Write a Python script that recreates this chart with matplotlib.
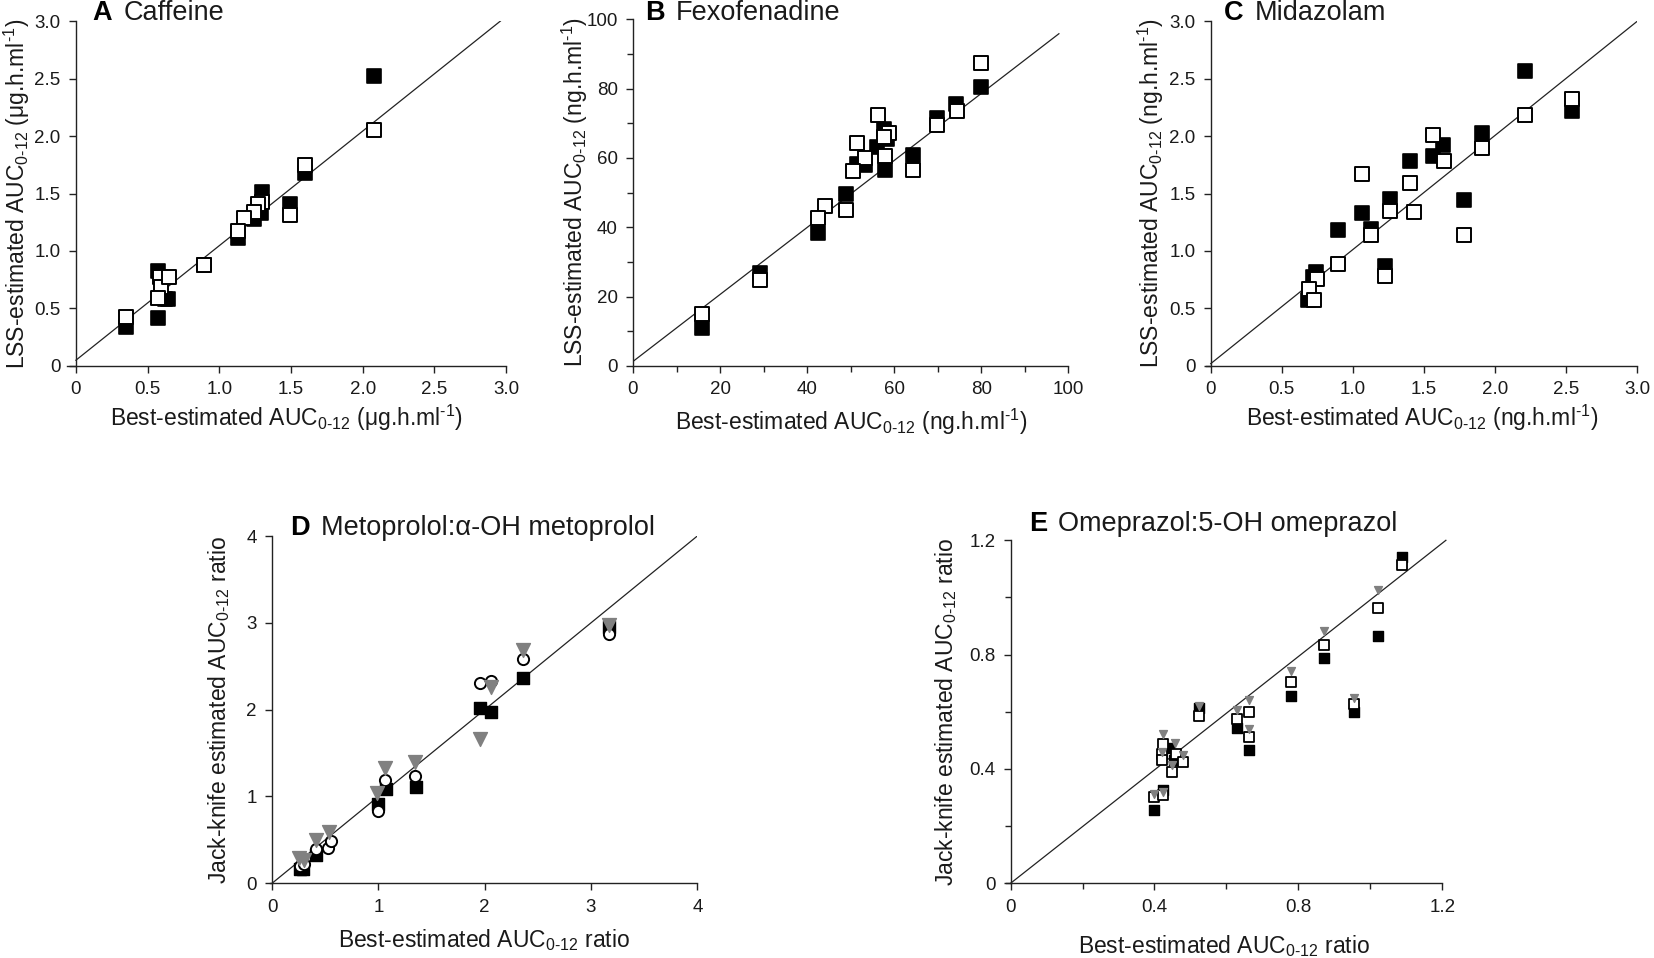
import matplotlib
matplotlib.use("Agg")
import matplotlib.pyplot as plt
from matplotlib.ticker import MultipleLocator, FuncFormatter
from matplotlib.mathtext import MathTextParser

plt.rcParams['font.family'] = ['Liberation Sans', 'DejaVu Sans']
plt.rcParams['mathtext.fontset'] = 'custom'
plt.rcParams['mathtext.rm'] = 'Liberation Sans'
plt.rcParams['mathtext.it'] = 'Liberation Sans:italic'
plt.rcParams['mathtext.bf'] = 'Liberation Sans:bold'

# ---------------- data ----------------
# Panel A: Caffeine
caf_filled_x = [2.08, 1.60, 1.49, 1.30, 1.29, 1.24, 1.13, 0.89, 0.57, 0.64, 0.62, 0.57, 0.35]
caf_filled_y = [2.52, 1.68, 1.41, 1.51, 1.33, 1.28, 1.11, 0.88, 0.83, 0.585, 0.585, 0.42, 0.34]
caf_open_x = [2.08, 1.60, 1.49, 1.30, 1.27, 1.24, 1.17, 1.13, 0.89, 0.585, 0.59, 0.65, 0.57, 0.35]
caf_open_y = [2.05, 1.75, 1.31, 1.43, 1.41, 1.34, 1.285, 1.175, 0.88, 0.77, 0.69, 0.77, 0.59, 0.43]
caf_line_x = [0, 2.96]
caf_line_y = [0.05, 3.0]

# Panel B: Fexofenadine
fex_filled_x = [80.0, 74.2, 69.7, 64.3, 57.6, 58.4, 56.1, 57.9, 53.3, 51.5, 48.9, 42.5, 29.2, 15.8]
fex_filled_y = [80.5, 75.4, 71.6, 60.9, 68.4, 65.5, 63.0, 56.4, 57.9, 58.2, 49.7, 38.4, 26.9, 11.0]
fex_open_x = [80.0, 74.5, 69.7, 64.3, 56.2, 58.7, 57.6, 57.9, 51.5, 53.3, 50.5, 48.9, 44.1, 42.5, 29.2, 15.8]
fex_open_y = [87.4, 73.4, 69.4, 56.4, 72.3, 67.1, 66.1, 60.6, 64.2, 60.1, 56.2, 45.0, 46.2, 42.8, 24.8, 14.9]
fex_line_x = [0, 97.8]
fex_line_y = [1.3, 95.8]

# Panel C: Midazolam
mid_filled_x = [2.21, 2.54, 1.91, 1.63, 1.565, 1.78, 1.40, 1.065, 1.26, 1.13, 0.895, 1.227, 0.743, 0.72, 0.682]
mid_filled_y = [2.57, 2.22, 2.03, 1.92, 1.83, 1.44, 1.78, 1.33, 1.455, 1.19, 1.18, 0.87, 0.82, 0.77, 0.575]
mid_open_x = [2.21, 2.54, 1.91, 1.565, 1.64, 1.78, 1.40, 1.065, 1.26, 1.43, 1.13, 0.895, 1.227, 0.75, 0.694, 0.726]
mid_open_y = [2.18, 2.32, 1.90, 2.01, 1.78, 1.14, 1.59, 1.67, 1.35, 1.34, 1.14, 0.89, 0.78, 0.76, 0.67, 0.57]
mid_line_x = [0, 3.0]
mid_line_y = [0.02, 3.0]

# Panel D: Metoprolol:alpha-OH metoprolol
met_tri_x = [0.25, 0.30, 0.41, 0.54, 0.99, 1.06, 1.34, 1.96, 2.06, 2.36, 3.17]
met_tri_y = [0.29, 0.27, 0.50, 0.59, 1.04, 1.33, 1.40, 1.66, 2.26, 2.69, 2.98]
met_circ_x = [0.26, 0.30, 0.41, 0.53, 0.55, 1.00, 1.06, 1.34, 1.96, 2.06, 2.36, 3.17]
met_circ_y = [0.20, 0.22, 0.39, 0.41, 0.49, 0.83, 1.19, 1.23, 2.31, 2.33, 2.58, 2.87]
met_sq_x = [0.26, 0.29, 0.41, 1.00, 1.07, 1.35, 1.96, 2.06, 2.36, 3.17]
met_sq_y = [0.16, 0.17, 0.32, 0.91, 1.09, 1.11, 2.02, 1.97, 2.36, 2.95]
met_line_x = [0, 4.0]
met_line_y = [0, 4.0]

# Panel E: Omeprazol:5-OH omeprazol
ome_filled_x = [0.40, 0.425, 0.44, 0.455, 0.525, 0.63, 0.663, 0.78, 0.87, 0.955, 1.02, 1.088]
ome_filled_y = [0.255, 0.328, 0.472, 0.433, 0.613, 0.542, 0.466, 0.654, 0.789, 0.601, 0.865, 1.141]
ome_open_x = [0.40, 0.425, 0.42, 0.42, 0.425, 0.45, 0.46, 0.48, 0.525, 0.63, 0.663, 0.663, 0.78, 0.87, 0.955, 1.02, 1.088]
ome_open_y = [0.302, 0.308, 0.454, 0.433, 0.487, 0.39, 0.454, 0.425, 0.584, 0.574, 0.598, 0.513, 0.703, 0.832, 0.627, 0.963, 1.112]
ome_tri_x = [0.40, 0.425, 0.425, 0.458, 0.48, 0.45, 0.42, 0.525, 0.63, 0.663, 0.663, 0.78, 0.87, 0.955, 1.022]
ome_tri_y = [0.312, 0.318, 0.521, 0.49, 0.449, 0.413, 0.46, 0.62, 0.607, 0.64, 0.539, 0.742, 0.883, 0.648, 1.026]
ome_line_x = [0, 1.21]
ome_line_y = [0, 1.2]

# ---------------- text helpers ----------------
def _mt_ok(s):
    try:
        MathTextParser('agg').parse(s, dpi=100)
        return True
    except Exception:
        return False

if _mt_ok(r'$_{\mathregular{0}\text{-}\mathregular{12}}$'):
    auc = r'AUC$_{\mathregular{0}\text{-}\mathregular{12}}$'
    sup = r'$^{\text{-}\mathregular{1}}$'
else:
    auc = r'AUC$_{\mathregular{0-12}}$'
    sup = r'$^{\mathregular{-1}}$'

unit_ug = r'($\mathregular{\mu}$g.h.ml' + sup + ')'
unit_ng = '(ng.h.ml' + sup + ')'

# ---------------- figure ----------------
fig = plt.figure(figsize=(16.54, 9.58), dpi=100)
TXT = '#1a1a1a'
GREY = '#808080'
TICK_FS = 13.5
LAB_FS = 16.5
TITLE_FS = 19.5


def make_axes(x0, x1, y0, y1, xmax, ymax, ext):
    w = x1 - x0
    ax = fig.add_axes([x0 - ext * w, y0, w * (1 + ext), y1 - y0])
    ax.set_xlim(-ext * xmax, xmax)
    ax.set_ylim(0, ymax)
    ax.spines['left'].set_position(('data', 0))
    ax.spines['top'].set_visible(False)
    ax.spines['right'].set_visible(False)
    for s in ('left', 'bottom'):
        ax.spines[s].set_linewidth(1.0)
        ax.spines[s].set_color('#222222')
    ax.tick_params(which='both', direction='out', length=5, width=1.0,
                   colors='#222222', labelsize=TICK_FS, labelcolor=TXT, pad=6)
    ax.tick_params(which='minor', length=4)
    return ax


def title(ax, letter, name, xf, yf):
    t = fig.text(xf, yf, letter, fontsize=TITLE_FS, fontweight='bold',
                 ha='left', va='center', color='black')
    ax.annotate(name, xy=(1, 0.5), xycoords=t, xytext=(8, 0),
                textcoords='offset points', fontsize=TITLE_FS,
                ha='left', va='center', color=TXT, annotation_clip=False)


def fmt1(v, pos):
    return '0' if abs(v) < 1e-9 else f'{v:.1f}'


def fmt0(v, pos):
    return f'{v:.0f}'


sq_kw_f = dict(marker='s', s=95, facecolor='black', edgecolor='black', linewidths=1.2, zorder=3, clip_on=False)
sq_kw_o = dict(marker='s', s=95, facecolor='white', edgecolor='black', linewidths=1.4, zorder=4, clip_on=False)

# Panel A
axA = make_axes(0.0459, 0.306, 0.618, 0.978, 3.0, 3.0, 0.02)
axA.plot(caf_line_x, caf_line_y, color='#222222', lw=0.9, zorder=2)
axA.scatter(caf_filled_x, caf_filled_y, **sq_kw_f)
axA.scatter(caf_open_x, caf_open_y, **sq_kw_o)
axA.xaxis.set_major_locator(MultipleLocator(0.5))
axA.yaxis.set_major_locator(MultipleLocator(0.5))
axA.xaxis.set_major_formatter(FuncFormatter(fmt1))
axA.yaxis.set_major_formatter(FuncFormatter(fmt1))
axA.set_xlabel('Best-estimated ' + auc + ' ' + unit_ug, fontsize=LAB_FS, color=TXT, labelpad=3.5)
axA.set_ylabel('LSS-estimated ' + auc + ' ' + unit_ug, fontsize=LAB_FS, color=TXT, labelpad=2)
title(axA, 'A', 'Caffeine', 0.0561, 0.986)

# Panel B
axB = make_axes(0.3827, 0.646, 0.618, 0.980, 100, 100, 0.0)
axB.plot(fex_line_x, fex_line_y, color='#222222', lw=0.9, zorder=2)
axB.scatter(fex_filled_x, fex_filled_y, **sq_kw_f)
axB.scatter(fex_open_x, fex_open_y, **sq_kw_o)
axB.xaxis.set_major_locator(MultipleLocator(20))
axB.yaxis.set_major_locator(MultipleLocator(20))
axB.xaxis.set_minor_locator(MultipleLocator(10))
axB.yaxis.set_minor_locator(MultipleLocator(10))
axB.xaxis.set_major_formatter(FuncFormatter(fmt0))
axB.yaxis.set_major_formatter(FuncFormatter(fmt0))
axB.set_xlabel('Best-estimated ' + auc + ' ' + unit_ng, fontsize=LAB_FS, color=TXT, labelpad=6)
axB.set_ylabel('LSS-estimated ' + auc + ' ' + unit_ng, fontsize=LAB_FS, color=TXT, labelpad=-3)
title(axB, 'B', 'Fexofenadine', 0.390, 0.986)

# Panel C
axC = make_axes(0.732, 0.990, 0.618, 0.978, 3.0, 3.0, 0.01)
axC.plot(mid_line_x, mid_line_y, color='#222222', lw=0.9, zorder=2)
axC.scatter(mid_filled_x, mid_filled_y, **sq_kw_f)
axC.scatter(mid_open_x, mid_open_y, **sq_kw_o)
axC.xaxis.set_major_locator(MultipleLocator(0.5))
axC.yaxis.set_major_locator(MultipleLocator(0.5))
axC.xaxis.set_major_formatter(FuncFormatter(fmt1))
axC.yaxis.set_major_formatter(FuncFormatter(fmt1))
axC.set_xlabel('Best-estimated ' + auc + ' ' + unit_ng, fontsize=LAB_FS, color=TXT, labelpad=3.5)
axC.set_ylabel('LSS-estimated ' + auc + ' ' + unit_ng, fontsize=LAB_FS, color=TXT, labelpad=2)
title(axC, 'C', 'Midazolam', 0.740, 0.986)

# Panel D
axD = make_axes(0.1645, 0.4216, 0.078, 0.4405, 4.0, 4.0, 0.005)
axD.plot(met_line_x, met_line_y, color='#222222', lw=0.9, zorder=2)
axD.scatter(met_sq_x, met_sq_y, marker='s', s=65, facecolor='black', edgecolor='black', zorder=3, clip_on=False)
axD.scatter(met_circ_x, met_circ_y, marker='o', s=65, facecolor='white', edgecolor='black', linewidths=1.4, zorder=4, clip_on=False)
axD.scatter(met_tri_x, met_tri_y, marker='v', s=100, facecolor=GREY, edgecolor=GREY, zorder=5, clip_on=False)
axD.xaxis.set_major_locator(MultipleLocator(1))
axD.yaxis.set_major_locator(MultipleLocator(1))
axD.xaxis.set_major_formatter(FuncFormatter(fmt0))
axD.yaxis.set_major_formatter(FuncFormatter(fmt0))
axD.set_xlabel('Best-estimated ' + auc + ' ratio', fontsize=LAB_FS, color=TXT, labelpad=8)
axD.set_ylabel('Jack-knife estimated ' + auc + ' ratio', fontsize=LAB_FS, color=TXT, labelpad=10)
title(axD, 'D', 'Metoprolol:\u03b1-OH metoprolol', 0.1754, 0.4493)

# Panel E
axE = make_axes(0.611, 0.872, 0.078, 0.436, 1.2, 1.2, 0.011)
axE.plot(ome_line_x, ome_line_y, color='#222222', lw=0.9, zorder=2, clip_on=False)
axE.scatter(ome_filled_x, ome_filled_y, marker='s', s=58, facecolor='black', edgecolor='black', zorder=3, clip_on=False)
axE.scatter(ome_open_x, ome_open_y, marker='s', s=58, facecolor='white', edgecolor='black', linewidths=1.3, zorder=4, clip_on=False)
axE.scatter(ome_tri_x, ome_tri_y, marker='v', s=32, facecolor=GREY, edgecolor=GREY, zorder=5, clip_on=False)
axE.xaxis.set_major_locator(MultipleLocator(0.4))
axE.yaxis.set_major_locator(MultipleLocator(0.4))
axE.xaxis.set_minor_locator(MultipleLocator(0.2))
axE.yaxis.set_minor_locator(MultipleLocator(0.2))
axE.xaxis.set_major_formatter(FuncFormatter(fmt1))
axE.yaxis.set_major_formatter(FuncFormatter(fmt1))
axE.set_xlabel('Best-estimated ' + auc + ' ratio', fontsize=LAB_FS, color=TXT, labelpad=12.5)
axE.set_ylabel('Jack-knife estimated ' + auc + ' ratio', fontsize=LAB_FS, color=TXT, labelpad=7.5)
title(axE, 'E', 'Omeprazol:5-OH omeprazol', 0.622, 0.4526)

fig.savefig('out.png', dpi=100, facecolor='white')
